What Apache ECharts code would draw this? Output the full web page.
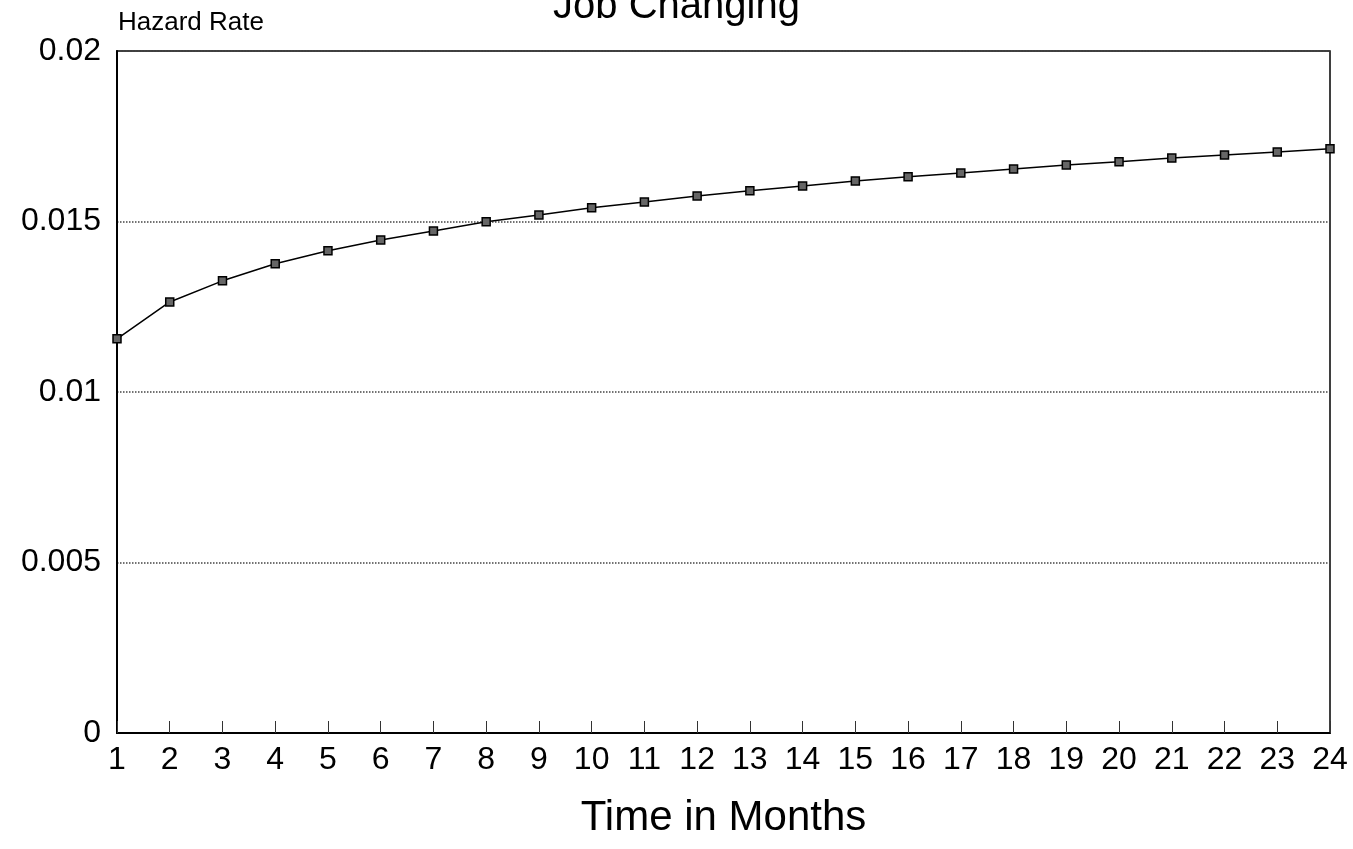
<!DOCTYPE html>
<html>
<head>
<meta charset="utf-8">
<script src="https://cdn.jsdelivr.net/npm/echarts@6/dist/echarts.min.js"></script>
<style>
  html, body { margin: 0; padding: 0; background: #fff; }
  #chart { width: 1353px; height: 849px; }
</style>
</head>
<body>
<div id="chart"></div>
<script>
/* ===== Data ===== */
const months = [1, 2, 3, 4, 5, 6, 7, 8, 9, 10, 11, 12, 13, 14, 15, 16, 17, 18, 19, 20, 21, 22, 23, 24];
const hazardRate = [
    0.01156, 0.01264, 0.01326, 0.01376, 0.01414, 0.01446, 0.01472, 0.01499,
    0.01519, 0.01540, 0.01557, 0.01575, 0.01590, 0.01604, 0.01619, 0.01631,
    0.01642, 0.01654, 0.01666, 0.01675, 0.01686, 0.01695, 0.01704, 0.01713
];
const yTicks = [0, 0.005, 0.01, 0.015, 0.02];

const FONT = '"Liberation Sans", Arial, sans-serif';

const chart = echarts.init(document.getElementById('chart'));

const option = {
    backgroundColor: '#fff',
    animation: false,
    title: {
        text: 'Job Changing',
        left: 'center',
        top: -18,
        textStyle: { fontFamily: FONT, fontSize: 40, fontWeight: 'normal', color: '#000' }
    },
    graphic: [{
        type: 'text',
        left: 118,
        top: 10,
        style: { text: 'Hazard Rate', fontFamily: FONT, fontSize: 26, fill: '#000' }
    }],
    grid: {
        left: 117,
        right: 23,
        top: 51,
        bottom: 116,
        show: true,
        borderColor: '#000',
        borderWidth: 1.5
    },
    xAxis: {
        type: 'value',
        min: 1,
        max: 24,
        interval: 1,
        name: 'Time in Months',
        nameLocation: 'middle',
        nameGap: 64,
        nameTextStyle: { fontFamily: FONT, fontSize: 42, color: '#000' },
        axisLine: { lineStyle: { color: '#000', width: 2 } },
        axisTick: { inside: true, length: 12, lineStyle: { color: '#333', width: 1 } },
        axisLabel: { fontFamily: FONT, fontSize: 32, color: '#000', margin: 11 },
        splitLine: { show: false }
    },
    yAxis: {
        type: 'value',
        min: 0,
        max: 0.02,
        interval: 0.005,
        axisLine: { show: true, lineStyle: { color: '#000', width: 2 } },
        axisTick: { show: false },
        axisLabel: {
            fontFamily: FONT, fontSize: 32, color: '#000', margin: 16,
            formatter: v => {
                const t = yTicks.find(x => Math.abs(x - v) < 1e-9);
                return t === undefined ? '' : String(t);
            }
        },
        splitLine: { lineStyle: { color: '#444', type: 'dotted', width: 1.5 } }
    },
    series: [{
        type: 'line',
        data: months.map((m, i) => [m, hazardRate[i]]),
        symbol: 'rect',
        symbolSize: 8,
        lineStyle: { color: '#000', width: 1.5 },
        itemStyle: { color: '#666', borderColor: '#000', borderWidth: 1.5 }
    }]
};

chart.setOption(option);
window.addEventListener('resize', () => chart.resize());
</script>
</body>
</html>
